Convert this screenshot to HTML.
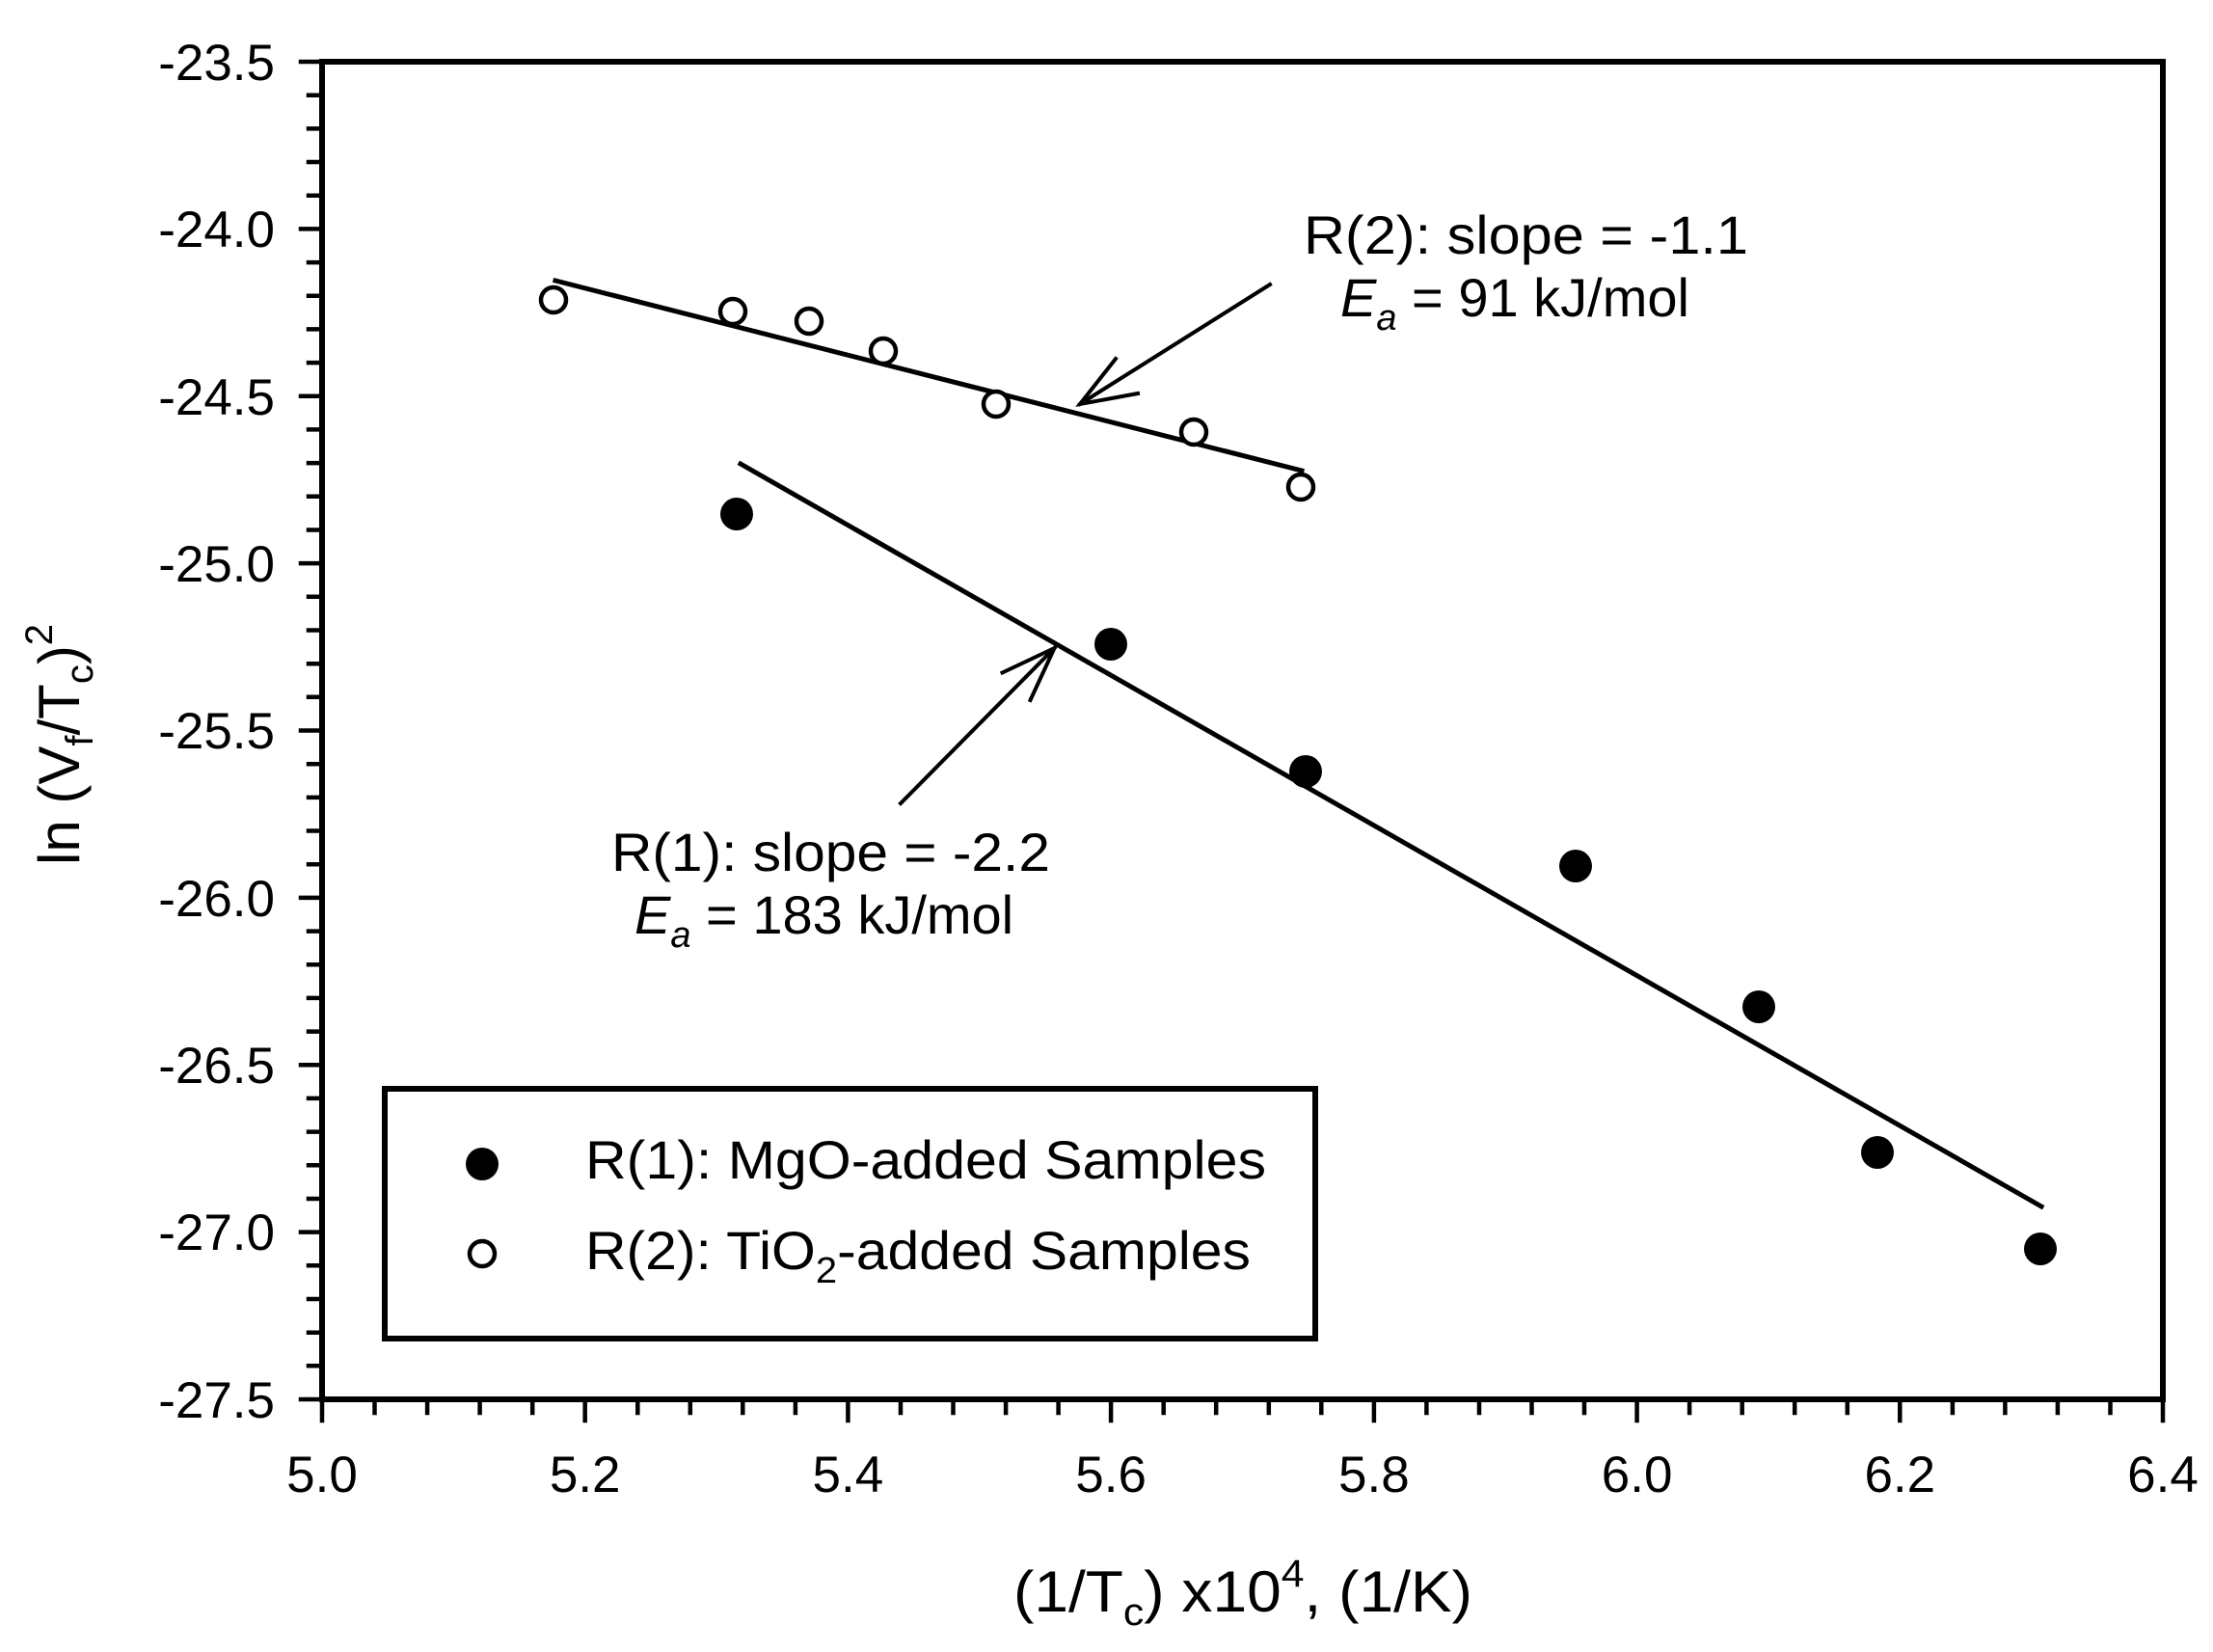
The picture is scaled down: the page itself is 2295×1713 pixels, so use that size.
<!DOCTYPE html>
<html><head><meta charset="utf-8"><style>html,body{margin:0;padding:0;background:#fff}svg{display:block}</style></head>
<body>
<svg width="2295" height="1713" viewBox="0 0 2295 1713" xmlns="http://www.w3.org/2000/svg" font-family="Liberation Sans, Arial, sans-serif">
<rect width="2295" height="1713" fill="#fff"/>
<g stroke="#000" stroke-linecap="square" fill="none">
<rect x="334" y="64" width="1909" height="1387" stroke-width="6"/>
<path stroke-width="4.5" d="M334 1451v22M606.7 1451v22M879.4 1451v22M1152.1 1451v22M1424.9 1451v22M1697.6 1451v22M1970.3 1451v22M2243 1451v22
M388.5 1451v14M443.1 1451v14M497.6 1451v14M552.2 1451v14M661.3 1451v14M715.8 1451v14M770.3 1451v14M824.9 1451v14M934 1451v14M988.5 1451v14M1043.1 1451v14M1097.6 1451v14M1206.7 1451v14M1261.2 1451v14M1315.8 1451v14M1370.3 1451v14M1479.4 1451v14M1534 1451v14M1588.5 1451v14M1643 1451v14M1752.1 1451v14M1806.7 1451v14M1861.2 1451v14M1915.8 1451v14M2024.9 1451v14M2079.4 1451v14M2133.9 1451v14M2188.5 1451v14
M334 64h-22M334 237.4h-22M334 410.8h-22M334 584.1h-22M334 757.5h-22M334 930.9h-22M334 1104.3h-22M334 1277.6h-22M334 1451h-22
M334 98.7h-14M334 133.4h-14M334 168h-14M334 202.7h-14M334 272.1h-14M334 306.7h-14M334 341.4h-14M334 376.1h-14M334 445.4h-14M334 480.1h-14M334 514.8h-14M334 549.5h-14M334 618.8h-14M334 653.5h-14M334 688.2h-14M334 722.8h-14M334 792.2h-14M334 826.9h-14M334 861.5h-14M334 896.2h-14M334 965.6h-14M334 1000.2h-14M334 1034.9h-14M334 1069.6h-14M334 1138.9h-14M334 1173.6h-14M334 1208.3h-14M334 1243h-14M334 1312.3h-14M334 1347h-14M334 1381.7h-14M334 1416.3h-14"/>
<path stroke-width="5" d="M576 291L1350 488"/>
<path stroke-width="5" d="M768 481L2117 1251"/>
<path stroke-width="4" d="M1317 295L1120 419M1157 372L1120 419L1180 408"/>
<path stroke-width="4" d="M934 833L1093.5 672M1039.5 697.5L1093.5 672L1068.5 726"/>
<rect x="399" y="1129" width="965" height="259" stroke-width="6"/>
</g>
<g fill="#000">
<circle cx="764" cy="533" r="17"/><circle cx="1152" cy="668" r="17"/><circle cx="1354" cy="800" r="17"/><circle cx="1634" cy="898" r="17"/><circle cx="1824" cy="1044" r="17"/><circle cx="1947" cy="1195" r="17"/><circle cx="2116" cy="1295" r="17"/>
<circle cx="500" cy="1207" r="17"/>
</g>
<g fill="#fff" stroke="#000" stroke-width="4.5">
<circle cx="574" cy="311" r="13"/><circle cx="760" cy="323" r="13"/><circle cx="839" cy="333" r="13"/><circle cx="916" cy="364" r="13"/><circle cx="1033" cy="419" r="13"/><circle cx="1238" cy="448" r="13"/><circle cx="1349" cy="505" r="13"/>
<circle cx="500" cy="1300" r="13"/>
</g>
<g font-size="53" fill="#000" text-anchor="end">
<text x="285" y="83">-23.5</text><text x="285" y="256">-24.0</text><text x="285" y="430">-24.5</text><text x="285" y="603">-25.0</text><text x="285" y="776">-25.5</text><text x="285" y="950">-26.0</text><text x="285" y="1123">-26.5</text><text x="285" y="1296">-27.0</text><text x="285" y="1470">-27.5</text>
</g>
<g font-size="53" fill="#000" text-anchor="middle">
<text x="334" y="1547">5.0</text><text x="606.7" y="1547">5.2</text><text x="879.4" y="1547">5.4</text><text x="1152.1" y="1547">5.6</text><text x="1424.9" y="1547">5.8</text><text x="1697.6" y="1547">6.0</text><text x="1970.3" y="1547">6.2</text><text x="2243" y="1547">6.4</text>
</g>
<g font-size="56" fill="#000">
<text x="607" y="1222" textLength="706" lengthAdjust="spacingAndGlyphs">R(1): MgO-added Samples</text>
<text x="607" y="1316" textLength="690" lengthAdjust="spacingAndGlyphs">R(2): TiO<tspan font-size="38" dy="14">2</tspan><tspan dy="-14">-added Samples</tspan></text>
<text x="634" y="903" textLength="455" lengthAdjust="spacingAndGlyphs">R(1): slope = -2.2</text>
<text x="658" y="968"><tspan font-style="italic">E</tspan><tspan font-style="italic" font-size="38" dy="14">a</tspan><tspan dy="-14"> = 183 kJ/mol</tspan></text>
<text x="1352" y="263" textLength="461" lengthAdjust="spacingAndGlyphs">R(2): slope = -1.1</text>
<text x="1390" y="328"><tspan font-style="italic">E</tspan><tspan font-style="italic" font-size="38" dy="14">a</tspan><tspan dy="-14"> = 91 kJ/mol</tspan></text>
</g>
<text x="1051" y="1671" font-size="60" fill="#000" textLength="476" lengthAdjust="spacingAndGlyphs">(1/T<tspan font-size="40" dy="14">c</tspan><tspan dy="-14">) x10</tspan><tspan font-size="40" dy="-26">4</tspan><tspan dy="26">, (1/K)</tspan></text>
<text transform="translate(82,897) rotate(-90)" font-size="60" fill="#000">ln (V<tspan font-size="40" dy="14">f</tspan><tspan dy="-14">/T</tspan><tspan font-size="40" dy="14">c</tspan><tspan dy="-14">)</tspan><tspan font-size="40" dy="-28">2</tspan></text>
</svg>
</body></html>
